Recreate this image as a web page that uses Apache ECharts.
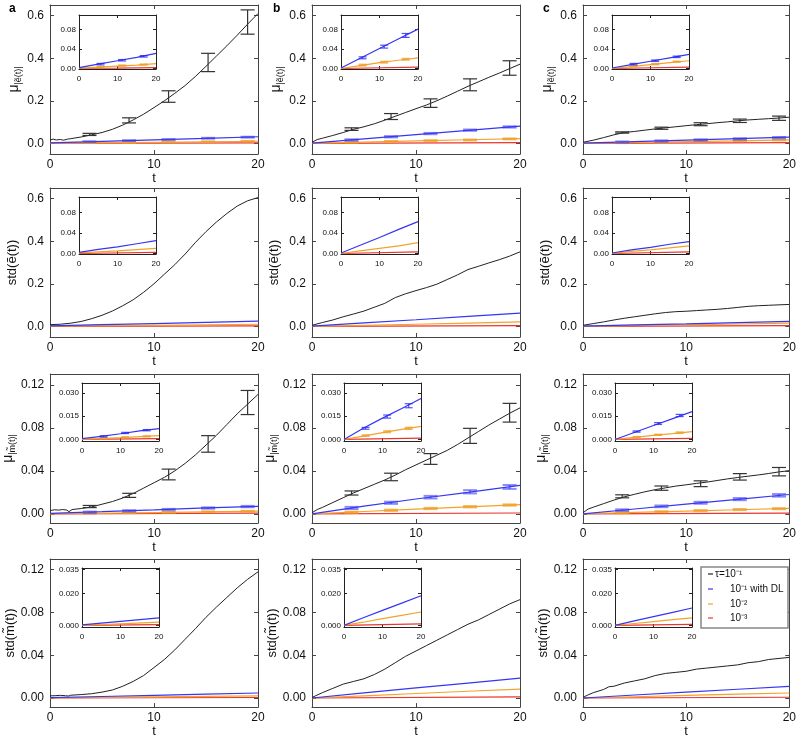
<!DOCTYPE html>
<html><head><meta charset="utf-8">
<script src="https://cdn.jsdelivr.net/npm/echarts@6/dist/echarts.min.js"></script>
<style>html,body{margin:0;padding:0;background:#fff}#c{width:799px;height:739px}</style>
</head><body><div id="c"></div>
<script>
// ---------- DATA (t, value) ----------
// Row 1: mean |e~(t)|
const muE_a_black = [[0,0.015],[0.3,0.02],[0.6,0.016],[1,0.018],[1.3,0.015],[1.7,0.02],[2,0.022],[3,0.03],[4,0.04],[5,0.051],[6,0.066],[7,0.086],[8,0.11],[9,0.137],[10,0.168],[11,0.2],[12,0.235],[13,0.272],[14,0.315],[15,0.362],[16,0.41],[17,0.458],[18,0.508],[19,0.56],[20,0.61]];
const muE_a_blue = [[0,0.002],[5,0.009],[10,0.016],[15,0.023],[20,0.031]];
const muE_a_orange = [[0,0.001],[5,0.003],[10,0.005],[15,0.007],[20,0.01]];
const muE_a_red = [[0,0.0005],[10,0.001],[20,0.002]];
const muE_a_barsBlack = [[3.8,0.042,0.005],[7.6,0.108,0.012],[11.4,0.22,0.027],[15.2,0.38,0.043],[19,0.57,0.057]];
const muE_a_barsBlue = [[3.8,0.008,0.002],[7.6,0.013,0.002],[11.4,0.018,0.002],[15.2,0.024,0.002],[19,0.029,0.002]];
const muE_a_barsOrange = [[3.8,0.003,0.0015],[7.6,0.004,0.0015],[11.4,0.006,0.0015],[15.2,0.008,0.0015],[19,0.01,0.0015]];
const muE_a_inBlue = [[5.6,0.009,0.0015],[11.2,0.017,0.0015],[16.8,0.025,0.0015]];
const muE_a_inOrange = [[5.6,0.003,0.001],[11.2,0.006,0.001],[16.8,0.008,0.001]];

const muE_b_black = [[0,0.005],[0.5,0.018],[1,0.024],[2,0.037],[3,0.051],[4,0.066],[5,0.078],[6,0.092],[7,0.109],[8,0.127],[9,0.145],[10,0.163],[11,0.18],[12,0.2],[13,0.222],[14,0.245],[15,0.268],[16,0.289],[17,0.31],[18,0.33],[19,0.351],[20,0.372]];
const muE_b_blue = [[0,0.001],[5,0.021],[10,0.041],[15,0.061],[20,0.081]];
const muE_b_orange = [[0,0],[5,0.006],[10,0.012],[15,0.017],[20,0.022]];
const muE_b_red = [[0,0],[20,0.003]];
const muE_b_barsBlack = [[3.8,0.067,0.006],[7.6,0.126,0.014],[11.4,0.189,0.02],[15.2,0.275,0.028],[19,0.354,0.034]];
const muE_b_barsBlue = [[3.8,0.016,0.003],[7.6,0.031,0.003],[11.4,0.046,0.003],[15.2,0.062,0.003],[19,0.077,0.003]];
const muE_b_barsOrange = [[3.8,0.005,0.002],[7.6,0.009,0.002],[11.4,0.013,0.002],[15.2,0.016,0.002],[19,0.021,0.002]];
const muE_b_inBlue = [[5.6,0.022,0.002],[11.2,0.045,0.003],[16.8,0.068,0.004]];
const muE_b_inOrange = [[5.6,0.007,0.0015],[11.2,0.013,0.0015],[16.8,0.019,0.0015]];

const muE_c_black = [[0,0.005],[1,0.015],[2,0.027],[3,0.04],[4,0.051],[5,0.056],[6,0.062],[7,0.068],[8,0.073],[9,0.078],[10,0.083],[11,0.088],[12,0.092],[13,0.097],[14,0.101],[15,0.106],[16,0.11],[17,0.113],[18,0.116],[19,0.119],[20,0.123]];
const muE_c_blue = [[0,0.001],[5,0.008],[10,0.015],[15,0.022],[20,0.029]];
const muE_c_orange = [[0,0],[5,0.004],[10,0.008],[15,0.012],[20,0.016]];
const muE_c_red = [[0,0],[20,0.003]];
const muE_c_barsBlack = [[3.8,0.051,0.003],[7.6,0.071,0.005],[11.4,0.09,0.007],[15.2,0.106,0.008],[19,0.118,0.01]];
const muE_c_barsBlue = [[3.8,0.006,0.003],[7.6,0.011,0.003],[11.4,0.016,0.003],[15.2,0.021,0.003],[19,0.027,0.003]];
const muE_c_barsOrange = [[3.8,0.003,0.002],[7.6,0.006,0.002],[11.4,0.01,0.002],[15.2,0.013,0.002],[19,0.016,0.002]];
const muE_c_inBlue = [[5.6,0.009,0.0015],[11.2,0.016,0.0015],[16.8,0.024,0.0015]];
const muE_c_inOrange = [[5.6,0.005,0.001],[11.2,0.009,0.001],[16.8,0.014,0.001]];

// Row 2: std(e~(t))
const stdE_a_black = [[0,0.008],[1,0.01],[2,0.015],[3,0.023],[4,0.036],[5,0.052],[6,0.072],[7,0.097],[8,0.125],[9,0.16],[10,0.2],[11,0.245],[12,0.29],[13,0.34],[14,0.395],[15,0.445],[16,0.49],[17,0.53],[18,0.565],[19,0.59],[20,0.605]];
const stdE_a_blue = [[0,0.002],[5,0.008],[10,0.013],[15,0.019],[20,0.025]];
const stdE_a_orange = [[0,0.001],[10,0.005],[20,0.01]];
const stdE_a_red = [[0,0],[20,0.002]];
const stdE_b_black = [[0,0.005],[1,0.018],[2,0.03],[3,0.045],[4,0.058],[5,0.072],[6,0.09],[7,0.108],[8,0.135],[9,0.153],[10,0.168],[11,0.182],[12,0.198],[13,0.22],[14,0.242],[15,0.267],[16,0.282],[17,0.298],[18,0.313],[19,0.33],[20,0.35]];
const stdE_b_blue = [[0,0.001],[5,0.016],[10,0.031],[15,0.047],[20,0.062]];
const stdE_b_orange = [[0,0],[5,0.005],[10,0.01],[15,0.015],[20,0.021]];
const stdE_b_red = [[0,0],[20,0.003]];
const stdE_c_black = [[0,0.005],[1,0.013],[2,0.021],[3,0.03],[4,0.038],[5,0.045],[6,0.052],[7,0.059],[8,0.065],[9,0.069],[10,0.071],[11,0.074],[12,0.077],[13,0.08],[14,0.084],[15,0.089],[16,0.094],[17,0.097],[18,0.099],[19,0.101],[20,0.103]];
const stdE_c_blue = [[0,0.001],[5,0.007],[10,0.012],[15,0.018],[20,0.023]];
const stdE_c_orange = [[0,0],[5,0.004],[10,0.007],[15,0.011],[20,0.015]];
const stdE_c_red = [[0,0],[20,0.003]];

// Row 3: mean |m~(t)|
const muM_a_black = [[0,0.003],[0.4,0.0038],[0.8,0.0035],[1.2,0.004],[1.6,0.0035],[1.8,0.002],[2.1,0.004],[3,0.005],[4,0.0065],[5,0.009],[6,0.0115],[7,0.0148],[8,0.019],[9,0.024],[10,0.029],[11,0.034],[12,0.04],[13,0.047],[14,0.055],[15,0.064],[16,0.073],[17,0.083],[18,0.093],[19,0.102],[20,0.111]];
const muM_a_blue = [[0,0.0005],[5,0.002],[10,0.0037],[15,0.0055],[20,0.007]];
const muM_a_orange = [[0,0],[10,0.0012],[20,0.0025]];
const muM_a_red = [[0,0],[20,0.0006]];
const muM_a_barsBlack = [[3.8,0.0068,0.001],[7.6,0.0172,0.0019],[11.4,0.0366,0.005],[15.2,0.065,0.0077],[19,0.1035,0.0112]];
const muM_a_barsBlue = [[3.8,0.0015,0.0006],[7.6,0.0028,0.0006],[11.4,0.004,0.0006],[15.2,0.0054,0.0006],[19,0.0068,0.0006]];
const muM_a_barsOrange = [[3.8,0.0005,0.0004],[7.6,0.001,0.0004],[11.4,0.0014,0.0004],[15.2,0.0019,0.0004],[19,0.0024,0.0004]];
const muM_a_inBlue = [[5.6,0.002,0.0004],[11.2,0.0042,0.0004],[16.8,0.006,0.0004]];
const muM_a_inOrange = [[5.6,0.0007,0.0003],[11.2,0.0014,0.0003],[16.8,0.002,0.0003]];

const muM_b_black = [[0,0.001],[0.5,0.004],[1,0.006],[2,0.0105],[3,0.015],[4,0.0195],[5,0.0235],[6,0.0275],[7,0.0315],[8,0.036],[9,0.041],[10,0.0455],[11,0.05],[12,0.0545],[13,0.059],[14,0.0645],[15,0.0705],[16,0.0765],[17,0.0825],[18,0.088],[19,0.0935],[20,0.0985]];
const muM_b_blue = [[0,0],[5,0.0072],[10,0.0138],[15,0.02],[20,0.0265]];
const muM_b_orange = [[0,0],[5,0.0022],[10,0.0044],[15,0.0065],[20,0.0085]];
const muM_b_red = [[0,0],[20,0.0008]];
const muM_b_barsBlack = [[3.8,0.0194,0.0019],[7.6,0.0343,0.0035],[11.4,0.051,0.005],[15.2,0.0725,0.007],[19,0.094,0.0087]];
const muM_b_barsBlue = [[3.8,0.0055,0.001],[7.6,0.0103,0.001],[11.4,0.0155,0.0012],[15.2,0.0205,0.0015],[19,0.025,0.0018]];
const muM_b_barsOrange = [[3.8,0.0015,0.0006],[7.6,0.0033,0.0006],[11.4,0.005,0.0006],[15.2,0.0066,0.0006],[19,0.0082,0.0006]];
const muM_b_inBlue = [[5.6,0.0072,0.0006],[11.2,0.0148,0.001],[16.8,0.0218,0.0013]];
const muM_b_inOrange = [[5.6,0.0025,0.0004],[11.2,0.005,0.0005],[16.8,0.0072,0.0006]];

const muM_c_black = [[0,0.001],[0.5,0.0045],[1,0.0062],[2,0.0095],[3,0.0128],[4,0.0158],[5,0.0182],[6,0.0205],[7,0.0225],[8,0.0242],[9,0.0258],[10,0.027],[11,0.0283],[12,0.0295],[13,0.031],[14,0.0325],[15,0.0338],[16,0.035],[17,0.0362],[18,0.0375],[19,0.039],[20,0.0402]];
const muM_c_blue = [[0,0],[5,0.0045],[10,0.009],[15,0.0135],[20,0.018]];
const muM_c_orange = [[0,0],[5,0.0013],[10,0.0026],[15,0.0038],[20,0.0051]];
const muM_c_red = [[0,0],[20,0.0007]];
const muM_c_barsBlack = [[3.8,0.0163,0.0014],[7.6,0.0239,0.002],[11.4,0.028,0.0027],[15.2,0.0344,0.003],[19,0.0392,0.0039]];
const muM_c_barsBlue = [[3.8,0.0035,0.0007],[7.6,0.007,0.0008],[11.4,0.0103,0.0009],[15.2,0.0137,0.001],[19,0.0172,0.0012]];
const muM_c_barsOrange = [[3.8,0.0011,0.0005],[7.6,0.002,0.0005],[11.4,0.003,0.0005],[15.2,0.004,0.0005],[19,0.0048,0.0005]];
const muM_c_inBlue = [[5.6,0.0051,0.0004],[11.2,0.0103,0.0006],[16.8,0.0155,0.0007]];
const muM_c_inOrange = [[5.6,0.0015,0.0003],[11.2,0.003,0.0003],[16.8,0.0044,0.0004]];

// Row 4: std(m~(t))
const stdM_a_black = [[0,0.002],[0.5,0.0022],[1,0.0025],[1.5,0.0021],[1.8,0.0019],[2,0.0026],[3,0.0032],[4,0.004],[5,0.0055],[6,0.0075],[7,0.011],[8,0.0155],[9,0.021],[10,0.0285],[11,0.036],[12,0.045],[13,0.055],[14,0.065],[15,0.0755],[16,0.085],[17,0.094],[18,0.103],[19,0.111],[20,0.118]];
const stdM_a_blue = [[0,0.0003],[5,0.0014],[10,0.0025],[15,0.0036],[20,0.0047]];
const stdM_a_orange = [[0,0],[10,0.001],[20,0.002]];
const stdM_a_red = [[0,0],[20,0.0005]];
const stdM_b_black = [[0,0.0005],[1,0.005],[2,0.009],[3,0.013],[4,0.0155],[5,0.018],[6,0.022],[7,0.027],[8,0.033],[9,0.039],[10,0.044],[11,0.049],[12,0.054],[13,0.059],[14,0.064],[15,0.069],[16,0.073],[17,0.078],[18,0.083],[19,0.088],[20,0.092]];
const stdM_b_blue = [[0,0],[5,0.0048],[10,0.0094],[15,0.014],[20,0.0186]];
const stdM_b_orange = [[0,0],[5,0.002],[10,0.0042],[15,0.0063],[20,0.0084]];
const stdM_b_red = [[0,0],[20,0.001]];
const stdM_c_black = [[0,0.0005],[0.5,0.003],[1,0.005],[2,0.008],[2.5,0.0105],[3,0.011],[4,0.014],[5,0.016],[6,0.018],[7,0.021],[8,0.023],[9,0.024],[10,0.025],[11,0.027],[12,0.028],[13,0.029],[14,0.03],[15,0.031],[16,0.033],[17,0.034],[18,0.036],[19,0.037],[20,0.038]];
const stdM_c_blue = [[0,0],[5,0.0028],[10,0.0055],[15,0.0082],[20,0.0109]];
const stdM_c_orange = [[0,0],[5,0.0012],[10,0.0024],[15,0.0036],[20,0.0047]];
const stdM_c_red = [[0,0],[20,0.0007]];

// Tick labels
const xTicks = [0, 10, 20];
const yTicksE = [0, 0.2, 0.4, 0.6];
const yTicksM = [0, 0.04, 0.08, 0.12];
const inTicksE = [0, 0.04, 0.08];
const inTicksMuM = [0, 0.015, 0.03];
const inTicksStdM = [0, 0.02, 0.035];
const legendLabels = ['\u03C4=10\u207B\u00B9', '10\u207B\u00B9 with DL', '10\u207B\u00B2', '10\u207B\u00B3'];
const panelLetters = ['a', 'b', 'c'];

// ---------- LAYOUT ----------
const FONT = '"Liberation Sans", Arial, Helvetica, sans-serif';
const C_BLACK = '#222', C_BLUE = '#3535f5', C_ORANGE = '#f3a32a', C_RED = '#e8352e';
const colLeft = [50, 312, 583], mainW = 208;
const rowTop = [5, 188, 374, 559], mainH = 149;
const inLeft = [29, 29, 32, 32], inTop = [10, 9, 9, 9], inW = 77, inH = [54, 57, 58, 59];
const mainRange = [[-0.05, 0.65], [-0.05, 0.65], [-0.0085, 0.13], [-0.0085, 0.13]];
const inRange = [[-0.001, 0.11], [-0.001, 0.11], [-0.001, 0.0365], [-0.001, 0.036]];
const mainTicks = [yTicksE, yTicksE, yTicksM, yTicksM];
const mainDec = [1, 1, 2, 2];
const inTicks = [inTicksE, inTicksE, inTicksMuM, inTicksStdM];
const inDec = [2, 2, 3, 3];
const yNames = [
  '{m|\u03BC}{s||\u1EBD(t)|}',
  'std(\u1EBD(t))',
  '{m|\u03BC}{s||m\u0303(t)|}',
  'std(m\u0303(t))'
];
const yNameGap = [24, 31, 31, 31];

const panels = [
  [
    {black: muE_a_black, blue: muE_a_blue, orange: muE_a_orange, red: muE_a_red, bk: muE_a_barsBlack, bb: muE_a_barsBlue, bo: muE_a_barsOrange, ib: muE_a_inBlue, io: muE_a_inOrange},
    {black: muE_b_black, blue: muE_b_blue, orange: muE_b_orange, red: muE_b_red, bk: muE_b_barsBlack, bb: muE_b_barsBlue, bo: muE_b_barsOrange, ib: muE_b_inBlue, io: muE_b_inOrange},
    {black: muE_c_black, blue: muE_c_blue, orange: muE_c_orange, red: muE_c_red, bk: muE_c_barsBlack, bb: muE_c_barsBlue, bo: muE_c_barsOrange, ib: muE_c_inBlue, io: muE_c_inOrange}
  ],
  [
    {black: stdE_a_black, blue: stdE_a_blue, orange: stdE_a_orange, red: stdE_a_red},
    {black: stdE_b_black, blue: stdE_b_blue, orange: stdE_b_orange, red: stdE_b_red},
    {black: stdE_c_black, blue: stdE_c_blue, orange: stdE_c_orange, red: stdE_c_red}
  ],
  [
    {black: muM_a_black, blue: muM_a_blue, orange: muM_a_orange, red: muM_a_red, bk: muM_a_barsBlack, bb: muM_a_barsBlue, bo: muM_a_barsOrange, ib: muM_a_inBlue, io: muM_a_inOrange},
    {black: muM_b_black, blue: muM_b_blue, orange: muM_b_orange, red: muM_b_red, bk: muM_b_barsBlack, bb: muM_b_barsBlue, bo: muM_b_barsOrange, ib: muM_b_inBlue, io: muM_b_inOrange},
    {black: muM_c_black, blue: muM_c_blue, orange: muM_c_orange, red: muM_c_red, bk: muM_c_barsBlack, bb: muM_c_barsBlue, bo: muM_c_barsOrange, ib: muM_c_inBlue, io: muM_c_inOrange}
  ],
  [
    {black: stdM_a_black, blue: stdM_a_blue, orange: stdM_a_orange, red: stdM_a_red},
    {black: stdM_b_black, blue: stdM_b_blue, orange: stdM_b_orange, red: stdM_b_red},
    {black: stdM_c_black, blue: stdM_c_blue, orange: stdM_c_orange, red: stdM_c_red}
  ]
];

const grids = [], xAxes = [], yAxes = [], series = [];

function addPlot(left, top, w, h, yr, ticks, dec, inset, yName, nameGap) {
  const g = grids.length;
  grids.push({left, top, width: w, height: h, show: inset, backgroundColor: '#fff', borderWidth: 0, containLabel: false});
  const axColor = inset ? '#222' : '#444';
  const tickLen = inset ? 3 : 4;
  const fs = inset ? 8 : 12;
  const common = {
    type: 'value', gridIndex: g, splitLine: {show: false},
    axisLine: {show: true, onZero: false, lineStyle: {color: axColor, width: 1}},
  };
  const xLab = {fontSize: fs, color: '#111', fontFamily: FONT, margin: inset ? 6 : 5};
  xAxes.push(Object.assign({}, common, {
    position: 'bottom', min: 0, max: 20, interval: 10,
    axisTick: {inside: true, length: tickLen, lineStyle: {color: axColor}},
    axisLabel: xLab,
    name: inset ? '' : 't', nameLocation: 'middle', nameGap: 14,
    nameTextStyle: {fontSize: 13, color: '#111', fontFamily: FONT}
  }));
  xAxes.push(Object.assign({}, common, {
    position: 'top', min: 0, max: 20, interval: 10,
    axisTick: {inside: true, length: tickLen, lineStyle: {color: axColor}},
    axisLabel: {show: false}
  }));
  const yLab = {fontSize: fs, color: '#111', fontFamily: FONT, margin: inset ? 3 : 6,
    customValues: ticks, formatter: v => Number(v).toFixed(dec)};
  const yl = Object.assign({}, common, {
    position: 'left', min: yr[0], max: yr[1],
    axisTick: {inside: true, length: tickLen, customValues: ticks, lineStyle: {color: axColor}},
    axisLabel: yLab
  });
  if (yName) {
    Object.assign(yl, {
      name: yName, nameLocation: 'middle', nameGap: nameGap, nameRotate: 90,
      nameTextStyle: {fontSize: 13, color: '#111', fontFamily: FONT,
        rich: {m: {fontSize: 14, fontFamily: FONT, color: '#111', lineHeight: 18, verticalAlign: 'middle'},
               s: {fontSize: 9, fontFamily: FONT, color: '#111', lineHeight: 9, verticalAlign: 'bottom'}}}
    });
  }
  yAxes.push(yl);
  yAxes.push(Object.assign({}, common, {
    position: 'right', min: yr[0], max: yr[1],
    axisTick: {inside: true, length: tickLen, customValues: ticks, lineStyle: {color: axColor}},
    axisLabel: {show: false}
  }));
  return g;
}

function lineS(g, data, color, width, z) {
  series.push({type: 'line', xAxisIndex: 2 * g, yAxisIndex: 2 * g, data, showSymbol: false, symbol: 'none',
    lineStyle: {color, width}, itemStyle: {color}, animation: false, silent: true, z, clip: true});
}
function barS(g, data, color, capHalf, lw, z) {
  series.push({type: 'custom', xAxisIndex: 2 * g, yAxisIndex: 2 * g, data, encode: {x: 0, y: 1},
    animation: false, silent: true, z,
    renderItem: function (params, api) {
      const x = api.value(0), y = api.value(1), e = api.value(2);
      const p1 = api.coord([x, y + e]), p2 = api.coord([x, y - e]);
      const st = {stroke: color, lineWidth: lw};
      return {type: 'group', children: [
        {type: 'line', shape: {x1: p1[0], y1: p1[1], x2: p2[0], y2: p2[1]}, style: st},
        {type: 'line', shape: {x1: p1[0] - capHalf, y1: p1[1], x2: p1[0] + capHalf, y2: p1[1]}, style: st},
        {type: 'line', shape: {x1: p2[0] - capHalf, y1: p2[1], x2: p2[0] + capHalf, y2: p2[1]}, style: st}
      ]};
    }});
}

for (let r = 0; r < 4; r++) {
  for (let c = 0; c < 3; c++) {
    const P = panels[r][c];
    const gm = addPlot(colLeft[c], rowTop[r], mainW, mainH, mainRange[r], mainTicks[r], mainDec[r], false, yNames[r], yNameGap[r]);
    lineS(gm, P.red, C_RED, 1.2, 3);
    lineS(gm, P.orange, C_ORANGE, 1.2, 3);
    lineS(gm, P.blue, C_BLUE, 1.2, 3);
    lineS(gm, P.black, C_BLACK, 1, 4);
    if (P.bk) {
      barS(gm, P.bo, 'rgba(240,160,40,0.75)', 7, 2, 5);
      barS(gm, P.bb, 'rgba(60,60,245,0.6)', 7, 2, 5);
      barS(gm, P.bk, '#333', 7, 1.2, 6);
    }
    const gi = addPlot(colLeft[c] + inLeft[r], rowTop[r] + inTop[r], inW, inH[r], inRange[r], inTicks[r], inDec[r], true, null, 0);
    lineS(gi, P.red, C_RED, 1.2, 7);
    lineS(gi, P.orange, C_ORANGE, 1.2, 7);
    lineS(gi, P.blue, C_BLUE, 1.2, 7);
    if (P.ib) {
      barS(gi, P.io, 'rgba(240,160,40,0.8)', 4, 1.5, 8);
      barS(gi, P.ib, 'rgba(40,40,245,0.8)', 4, 1.2, 8);
    }
  }
}

// ---------- LEGEND & LETTERS (graphic) ----------
const legColors = [C_BLACK, C_BLUE, C_ORANGE, C_RED];
const legY = [574, 589, 604, 618];
const legTextX = [715, 730, 730, 730];
const graphic = [
  {type: 'rect', z: 100, shape: {x: 701, y: 567, width: 87, height: 61}, style: {fill: '#fff', stroke: '#888', lineWidth: 1.5}}
];
for (let i = 0; i < 4; i++) {
  graphic.push({type: 'line', z: 101, shape: {x1: 708, y1: legY[i], x2: 713, y2: legY[i]}, style: {stroke: legColors[i], lineWidth: 1.2}});
  graphic.push({type: 'text', z: 101, x: legTextX[i], y: legY[i], style: {text: legendLabels[i], fill: '#111', font: '10px ' + FONT, textVerticalAlign: 'middle', verticalAlign: 'middle'}});
}
const letterX = [9, 273, 543];
for (let c = 0; c < 3; c++) {
  graphic.push({type: 'text', z: 101, x: letterX[c], y: 9, style: {text: panelLetters[c], fill: '#000', font: 'bold 12px ' + FONT, verticalAlign: 'middle', textVerticalAlign: 'middle'}});
}

const chart = echarts.init(document.getElementById('c'), null, {renderer: 'canvas', width: 799, height: 739});
chart.setOption({animation: false, backgroundColor: '#fff', grid: grids, xAxis: xAxes, yAxis: yAxes, series, graphic});
</script></body></html>
